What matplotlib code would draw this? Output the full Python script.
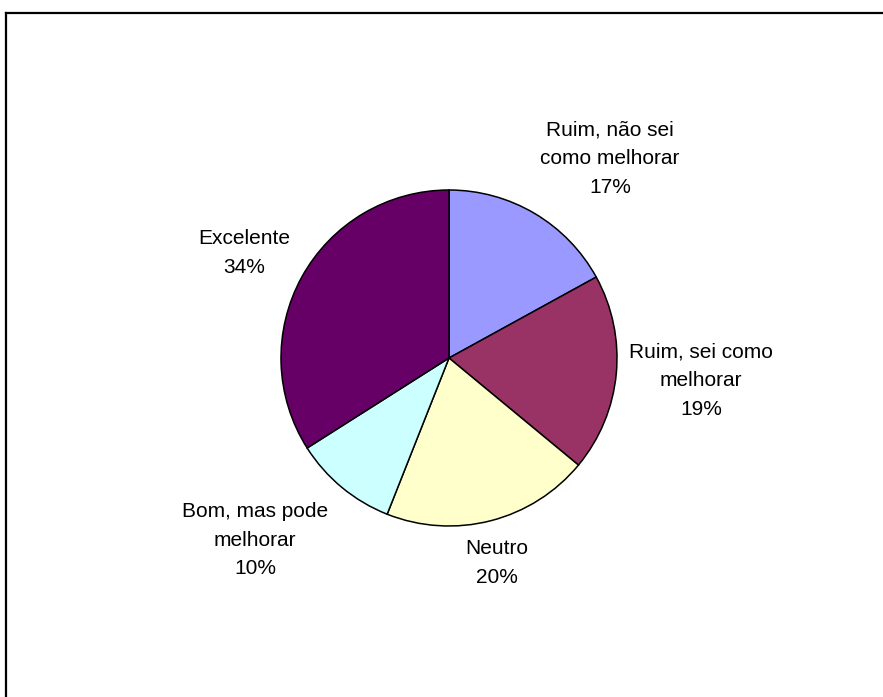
import matplotlib

matplotlib.use("Agg")
import matplotlib.pyplot as plt
from matplotlib.lines import Line2D

plt.rcParams["font.family"] = ["Liberation Sans", "DejaVu Sans"]

labels = ["Ruim, não sei\ncomo melhorar", "Ruim, sei como\nmelhorar", "Neutro",
          "Bom, mas pode\nmelhorar", "Excelente"]
shares = [17, 19, 20, 10, 34]
colors = ["#9999FF", "#993366", "#FFFFCC", "#CCFFFF", "#660066"]

# label anchor points in pixels (x right, y down), as placed in the original
label_pos = [(610, 159), (701, 381), (497, 563), (255, 540), (244, 253)]

W, H = 883, 697
fig = plt.figure(figsize=(W / 100, H / 100), dpi=100)
ax = fig.add_axes([0, 0, 1, 1])

cx, cy, r = 449, H - 358, 168
ax.pie(shares, colors=colors, startangle=90, counterclock=False,
       center=(cx, cy), radius=r, frame=True,
       wedgeprops=dict(edgecolor="black", linewidth=1.1))
ax.set_xlim(0, W)
ax.set_ylim(0, H)
ax.axis("off")

for lab, val, (x, y) in zip(labels, shares, label_pos):
    ax.text(x, H - y, f"{lab}\n{val}%", ha="center", va="center",
            fontsize=15, linespacing=1.65, color="black")

# chart-area frame: only the top and left sides fall inside the picture
fig.add_artist(Line2D([6 / W, 6 / W], [0, 1 - 13 / H], color="black", lw=1.6,
                      transform=fig.transFigure))
fig.add_artist(Line2D([6 / W, 1], [1 - 13 / H, 1 - 13 / H], color="black", lw=1.6,
                      transform=fig.transFigure))

fig.savefig("out.png", dpi=100)
